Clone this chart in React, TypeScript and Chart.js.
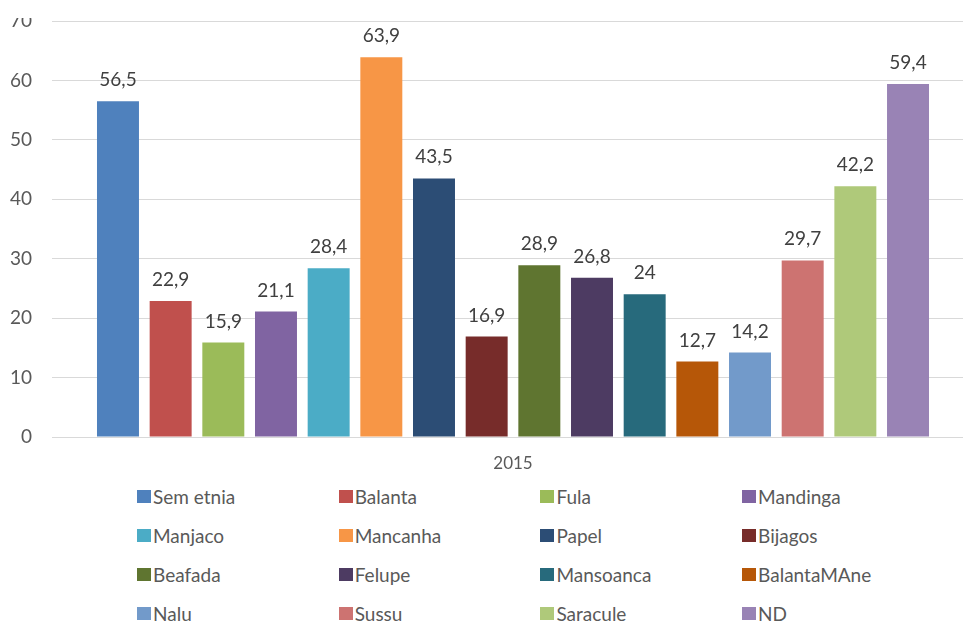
import React, { useEffect, useRef } from "react";
import { Chart, registerables } from "chart.js";

Chart.register(...registerables);

const categories = ["2015"];
const seriesNames = [
  "Sem etnia", "Balanta", "Fula", "Mandinga",
  "Manjaco", "Mancanha", "Papel", "Bijagos",
  "Beafada", "Felupe", "Mansoanca", "BalantaMAne",
  "Nalu", "Sussu", "Saracule", "ND",
];
const seriesValues = [56.5, 22.9, 15.9, 21.1, 28.4, 63.9, 43.5, 16.9, 28.9, 26.8, 24, 12.7, 14.2, 29.7, 42.2, 59.4];
const seriesColors = [
  "#4F81BD", "#C0504D", "#9BBB59", "#8064A2",
  "#4BACC6", "#F79646", "#2C4D75", "#772C2A",
  "#5F7530", "#4D3B62", "#276A7C", "#B65708",
  "#729ACA", "#CD7371", "#AFC97A", "#9983B5",
];
const yTicks = [0, 10, 20, 30, 40, 50, 60, 70];

const FONT = "Lato, 'Open Sans', sans-serif";

const valueLabels = {
  id: "valueLabels",
  afterDatasetsDraw(chart: any) {
    const ctx = chart.ctx;
    ctx.save();
    ctx.font = `19px ${FONT}`;
    ctx.fillStyle = "#404040";
    ctx.textAlign = "center";
    ctx.textBaseline = "alphabetic";
    chart.data.datasets.forEach((ds: any, i: number) => {
      const meta = chart.getDatasetMeta(i);
      meta.data.forEach((bar: any, j: number) => {
        const v = ds.data[j];
        ctx.fillText(String(v).replace(".", ","), bar.x, bar.y - 15);
      });
    });
    ctx.restore();
  },
};

export default function App() {
  const ref = useRef<HTMLCanvasElement | null>(null);
  useEffect(() => {
    if (!ref.current) return;
    const chart = new Chart(ref.current, {
      type: "bar",
      data: {
        labels: categories,
        datasets: seriesNames.map((name, i) => ({
          label: name,
          data: [seriesValues[i]],
          backgroundColor: seriesColors[i],
          categoryPercentage: 0.914,
          barPercentage: 0.797,
        })),
      },
      options: {
        animation: false,
        responsive: false,
        devicePixelRatio: 1,
        layout: { padding: { top: 21, left: 0, right: 26, bottom: 0 } },
        plugins: {
          legend: { display: false },
          tooltip: { enabled: false },
        },
        scales: {
          x: {
            grid: { display: false, drawTicks: false },
            border: { display: true, color: "#D9D9D9", width: 1 },
            ticks: { color: "#595959", font: { family: FONT, size: 17 }, padding: 16 },
            afterFit: (s: any) => { s.height = 43; s.paddingLeft = 0; s.paddingRight = 0; },
          },
          y: {
            min: 0,
            max: 70,
            afterBuildTicks: (s: any) => { s.ticks = yTicks.map((v) => ({ value: v })); },
            grid: { color: "#D9D9D9", lineWidth: 1, drawTicks: false },
            border: { display: false },
            ticks: { color: "#595959", font: { family: FONT, size: 19 }, padding: 20 },
            afterFit: (s: any) => { s.width = 52; s.paddingTop = 0; s.paddingBottom = 0; },
          },
        },
      },
      plugins: [valueLabels],
    });
    return () => chart.destroy();
  }, []);

  return (
    <div style={{ position: "fixed", left: 0, top: 0, width: 963, height: 624, overflow: "hidden", background: "#fff", fontFamily: FONT }}>
      <div style={{ position: "absolute", left: 0, top: 18, width: 963, height: 606, overflow: "hidden" }}>
        <canvas ref={ref} width={1000} height={480} style={{ position: "absolute", left: 0, top: -18, display: "block" }} />
      </div>
      {seriesNames.map((name, i) => {
        const col = i % 4;
        const row = Math.floor(i / 4);
        return (
          <div key={name} style={{ position: "absolute", left: 137 + col * 201.7, top: 496 + row * 39 - 12, height: 24, display: "flex", alignItems: "center", whiteSpace: "nowrap", color: "#595959", fontSize: 19 }}>
            <span style={{ display: "inline-block", width: 14, height: 13, background: seriesColors[i], marginRight: 2 }} />
            <span>{name}</span>
          </div>
        );
      })}
    </div>
  );
}
